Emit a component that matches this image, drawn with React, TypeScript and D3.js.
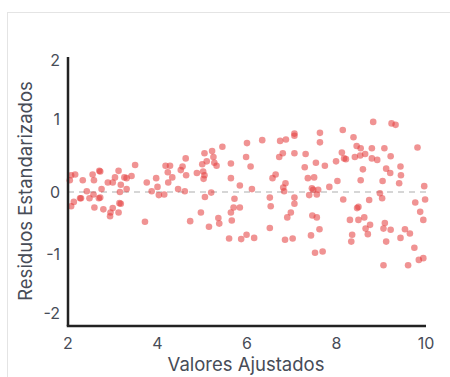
import React from "react";
import * as d3 from "d3";

// fitted values (x) and standardized residuals (y)
const fitted = [
  2.04, 2.07, 2.16, 2.33, 2.55, 2.7, 2.72, 2.58, 2.42, 2.13, 2.07, 2.27, 2.29, 2.48, 2.57, 2.69,
  2.72, 2.75, 2.59, 2.79, 2.89, 3.0, 3.05, 3.13, 3.18, 3.16, 3.26, 3.31, 3.42, 3.5, 3.31, 3.0,
  2.95, 2.94, 3.15, 3.18, 3.13, 3.72, 3.76, 3.87, 3.97, 4.0, 4.03, 4.15,
  4.18, 4.28, 4.23, 4.33, 4.24, 4.46, 4.61, 4.52, 4.56, 4.63, 4.64, 4.88, 5.0, 5.05, 5.1, 5.02,
  5.05, 5.03, 5.22, 5.25, 5.27, 5.32, 5.45, 5.2, 5.06, 4.97, 4.73, 5.15, 5.36, 5.38, 5.64, 5.64,
  5.72, 5.7, 5.64, 5.84, 5.84, 5.66, 5.6, 5.87, 5.99, 5.98, 6.0, 6.08, 6.11, 6.16,
  6.34, 6.74, 6.87, 7.06, 7.06, 7.63, 7.63, 8.14, 6.8, 6.72, 7.06, 7.31, 7.29, 7.54, 7.74, 7.99,
  8.12, 8.17, 6.64, 6.57, 6.86, 6.81, 6.83, 7.36, 7.5, 7.45, 7.48, 7.59, 7.39, 7.56, 7.84, 8.02,
  8.15, 6.51, 6.53, 7.06, 7.06, 6.98, 6.9, 7.46, 7.56, 7.62, 7.43, 6.51, 6.85, 7.02, 7.52, 7.69,
  8.21, 8.38, 8.45, 8.54, 8.41, 8.53, 8.64, 8.79, 8.82, 8.79, 8.91, 9.07, 9.21, 9.23, 9.32, 9.81,
  8.59, 8.54, 9.11, 9.2, 9.43, 9.44, 9.4, 9.03, 9.96, 8.97, 9.02, 8.73, 9.76, 9.98, 8.49, 8.46,
  9.87, 9.94, 8.3, 8.49, 8.62, 8.75, 8.65, 8.7, 9.08, 9.05, 9.21, 9.53, 9.64, 9.43, 8.35, 8.33,
  9.11, 9.74, 9.84, 9.94, 9.05, 9.6,
];

const residuals = [
  0.16, 0.23, 0.24, 0.16, 0.24, 0.29, 0.28, 0.16, 0.01, -0.16, -0.23, -0.1, -0.1, -0.1, -0.04, -0.1,
  -0.09, 0.04, -0.25, -0.28, 0.13, 0.13, 0.2, 0.29, 0.1, 0.0, 0.2, 0.19, 0.22, 0.37, 0.04, -0.26,
  -0.33, -0.39, -0.18, -0.19, -0.33, -0.48, 0.13, 0.01, 0.19, 0.07, -0.05, -0.04,
  0.36, 0.36, 0.27, 0.2, 0.13, 0.04, 0.01, 0.3, 0.35, 0.46, 0.23, 0.26, 0.38, 0.53, 0.42, 0.28,
  0.23, 0.18, 0.56, 0.48, 0.4, 0.36, 0.62, -0.01, -0.08, -0.33, -0.47, -0.56, -0.42, -0.51, 0.39, 0.19,
  -0.11, -0.25, -0.33, 0.09, -0.25, -0.46, -0.75, -0.76, -0.69, 0.48, 0.67, 0.35, 0.04, -0.74,
  0.71, 0.7, 0.72, 0.8, 0.77, 0.81, 0.68, 0.85, 0.53, 0.48, 0.53, 0.52, 0.34, 0.4, 0.36, 0.42,
  0.54, 0.46, 0.24, 0.19, 0.12, 0.06, 0.01, 0.19, 0.2, 0.05, 0.03, 0.03, -0.05, -0.04, 0.07, 0.15,
  -0.12, -0.09, -0.23, -0.09, -0.19, -0.33, -0.41, -0.38, -0.41, -0.6, -0.7, -0.58, -0.77, -0.75, -0.98, -0.96,
  0.45, 0.75, 0.63, 0.6, 0.48, 0.5, 0.52, 0.6, 0.96, 0.46, 0.44, 0.6, 0.49, 0.94, 0.92, 0.61,
  0.31, 0.16, 0.32, 0.26, 0.35, 0.23, 0.12, 0.15, 0.08, -0.02, -0.1, -0.13, -0.17, -0.12, -0.24, -0.26,
  -0.32, -0.45, -0.45, -0.45, -0.41, -0.53, -0.59, -0.68, -0.5, -0.59, -0.61, -0.6, -0.67, -0.74, -0.69, -0.8,
  -0.8, -0.9, -1.1, -1.07, -1.19, -1.19,
];

const xTicks = [2, 4, 6, 8, 10];
const yTicks = [-2, -1, 0, 1, 2];

const W = 450;
const H = 377;
const font = "Inter, 'Liberation Sans', sans-serif";
const textColor = "#474c57";

export default function App() {
  const x = d3.scaleLinear().domain([2, 10]).range([68, 426]);
  const y = d3.scaleLinear().domain([-2, -1, 0, 1, 2]).range([313, 254, 192, 119, 60]);
  const yBottom = y(-2.22);
  const yTop = y(2.05);

  const points = fitted.map((f, i) => ({ f, r: residuals[i] }));

  return (
    <svg
      width={W}
      height={H}
      style={{ position: "absolute", left: 0, top: 0, background: "#fff" }}
    >
      <rect x={7.5} y={12.5} width={W + 20} height={H + 20} fill="#fff" stroke="#e4e4e4" />

      {/* zero reference line */}
      <line
        x1={x(2)}
        x2={x(10)}
        y1={y(0)}
        y2={y(0)}
        stroke="#c9c9c9"
        strokeWidth={1.5}
        strokeDasharray="6,5"
      />

      {points.map((d, i) => (
        <circle
          key={i}
          cx={x(d.f)}
          cy={y(d.r)}
          r={3.3}
          fill="#e53e3e"
          fillOpacity={0.56}
        />
      ))}

      {/* axes */}
      <line x1={x(2)} x2={x(2)} y1={yTop} y2={yBottom} stroke="#222" strokeWidth={2.5} />
      <line x1={x(2) - 1.25} x2={x(10)} y1={yBottom} y2={yBottom} stroke="#222" strokeWidth={2.5} />

      {yTicks.map((t) => (
        <text
          key={t}
          x={60}
          y={y(t)}
          dy="0.35em"
          textAnchor="end"
          fontFamily={font}
          fontSize={16}
          fill={textColor}
        >
          {t}
        </text>
      ))}
      {xTicks.map((t) => (
        <text
          key={t}
          x={x(t)}
          y={348.5}
          textAnchor="middle"
          fontFamily={font}
          fontSize={16}
          fill={textColor}
        >
          {t}
        </text>
      ))}

      <text
        x={246}
        y={371}
        textAnchor="middle"
        fontFamily={font}
        fontSize={18.5}
        fill={textColor}
      >
        Valores Ajustados
      </text>
      <text
        transform={`translate(32,191) rotate(-90)`}
        textAnchor="middle"
        fontFamily={font}
        fontSize={18.5}
        fill={textColor}
      >
        Residuos Estandarizados
      </text>
    </svg>
  );
}
